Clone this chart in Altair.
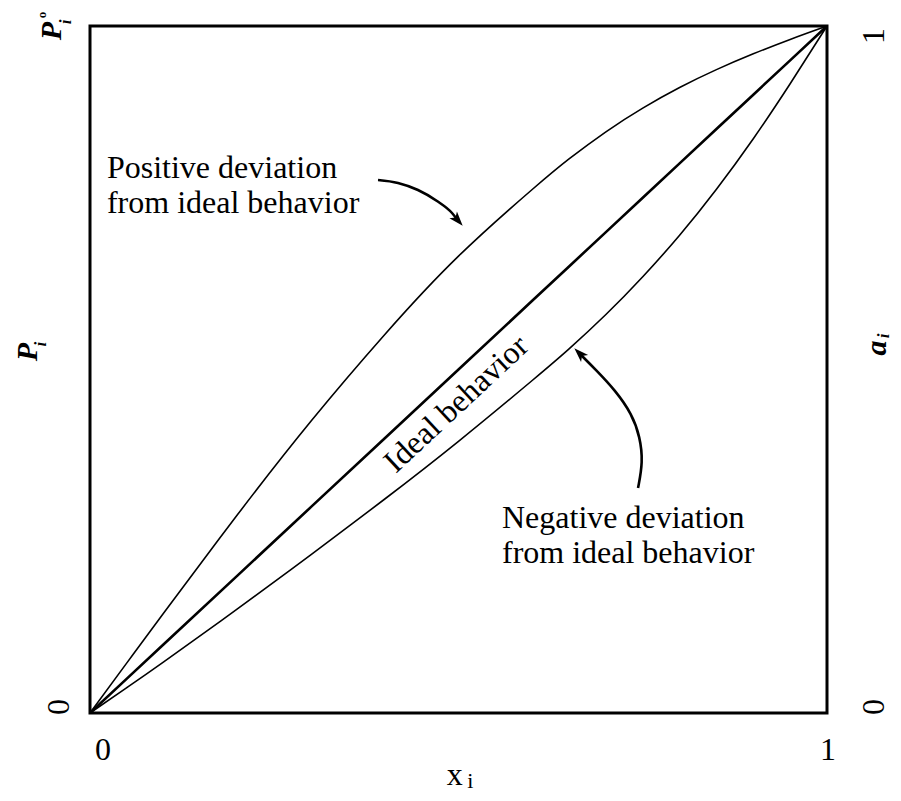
import altair as alt
import pandas as pd

# ---- data (fractions of the axis range) ----
x_frac = [0.0, 0.05, 0.1, 0.2, 0.3, 0.4, 0.5, 0.6, 0.65, 0.7, 0.75, 0.8, 0.85, 0.9, 0.95, 1.0]
ideal = [0.0, 0.05, 0.1, 0.2, 0.3, 0.4, 0.5, 0.6, 0.65, 0.7, 0.75, 0.8, 0.85, 0.9, 0.95, 1.0]
positive_dev = [0.0, 0.073, 0.1455, 0.2885, 0.425, 0.551, 0.665, 0.762, 0.8065, 0.846, 0.8805, 0.9105, 0.9365, 0.9595, 0.9805, 1.0]
negative_dev = [0.0, 0.037, 0.0745, 0.1515, 0.2305, 0.3115, 0.3955, 0.484, 0.530, 0.580, 0.635, 0.6955, 0.7625, 0.836, 0.916, 1.0]

# annotation arrows (data coordinates)
arrow_pos_x = [0.3908, 0.4179, 0.4450, 0.4708, 0.4912, 0.4985]
arrow_pos_y = [0.7758, 0.7715, 0.7613, 0.7453, 0.7278, 0.7180]
arrow_neg_x = [0.7436, 0.7503, 0.7463, 0.7354, 0.7123, 0.6866, 0.6649]
arrow_neg_y = [0.3275, 0.3654, 0.4017, 0.4352, 0.4702, 0.4993, 0.5226]
head_x = [0.4985, 0.6649]
head_y = [0.7180, 0.5226]
head_angle = [139, 315]

# texts
pos_label = ["Positive deviation", "from ideal behavior"]
neg_label = ["Negative deviation", "from ideal behavior"]
ideal_label = "Ideal behavior"
x_tick_labels = ["0", "1"]

FONT = "Liberation Serif"

xs = alt.Scale(domain=[0, 1], nice=False, zero=False)
ys = alt.Scale(domain=[0, 1], nice=False, zero=False)


def enc(extra=None):
    d = dict(x=alt.X("x:Q", scale=xs, axis=None), y=alt.Y("y:Q", scale=ys, axis=None))
    if extra:
        d.update(extra)
    return d


ideal_line = alt.Chart(pd.DataFrame({"x": x_frac, "y": ideal})).mark_line(
    color="black", strokeWidth=2.6).encode(**enc())
pos_line = alt.Chart(pd.DataFrame({"x": x_frac, "y": positive_dev})).mark_line(
    color="black", strokeWidth=1.6, interpolate="natural").encode(**enc())
neg_line = alt.Chart(pd.DataFrame({"x": x_frac, "y": negative_dev})).mark_line(
    color="black", strokeWidth=1.6, interpolate="natural").encode(**enc())

arr1 = alt.Chart(pd.DataFrame({"x": arrow_pos_x, "y": arrow_pos_y, "i": range(len(arrow_pos_x))})).mark_line(
    color="black", strokeWidth=2.6, interpolate="monotone").encode(**enc({"order": "i:Q"}))
arr2 = alt.Chart(pd.DataFrame({"x": arrow_neg_x, "y": arrow_neg_y, "i": range(len(arrow_neg_x))})).mark_line(
    color="black", strokeWidth=2.6, interpolate="basis").encode(**enc({"order": "i:Q"}))
heads = alt.Chart(pd.DataFrame({"x": head_x, "y": head_y, "a": head_angle})).mark_point(
    shape="M0,-1L0.62,0.8L0,0.35L-0.62,0.8Z", filled=True, color="black", opacity=1, size=260, strokeWidth=0
).encode(**enc({"angle": alt.Angle("a:Q", scale=None)}))

# annotation texts
pos_txt = alt.Chart(pd.DataFrame({"x": [0.023, 0.023], "y": [0.7787, 0.7278], "t": pos_label})).mark_text(
    font=FONT, fontSize=32, align="left", baseline="alphabetic", color="black").encode(**enc({"text": "t:N"}))
neg_txt = alt.Chart(pd.DataFrame({"x": [0.559, 0.559], "y": [0.2693, 0.2183], "t": neg_label})).mark_text(
    font=FONT, fontSize=32, align="left", baseline="alphabetic", color="black").encode(**enc({"text": "t:N"}))
ideal_txt = alt.Chart(pd.DataFrame({"x": [0.497], "y": [0.450], "t": [ideal_label]})).mark_text(
    font=FONT, fontSize=32, align="center", baseline="middle", angle=317, color="black").encode(**enc({"text": "t:N"}))

# x axis labels and title
xlab = alt.Chart(pd.DataFrame({"x": [0.0176, 1.0014], "y": [-0.0684, -0.0684], "t": x_tick_labels})).mark_text(
    font=FONT, fontSize=32, align="center", baseline="alphabetic", color="black").encode(**enc({"text": "t:N"}))
xtitle = alt.Chart(pd.DataFrame({"x": [0.495], "y": [-0.1048], "t": ["x"]})).mark_text(
    font=FONT, fontSize=32, align="center", baseline="alphabetic", color="black").encode(**enc({"text": "t:N"}))
xtitle_sub = alt.Chart(pd.DataFrame({"x": [0.512], "y": [-0.1092], "t": ["i"]})).mark_text(
    font=FONT, fontSize=22, align="left", baseline="alphabetic", color="black").encode(**enc({"text": "t:N"}))

# rotated side labels (0 / 1)
side_nums = alt.Chart(pd.DataFrame({"x": [-0.042, 1.064, 1.064], "y": [0.0087, 0.0087, 0.9854],
                                    "t": ["0", "0", "1"]})).mark_text(
    font=FONT, fontSize=32, align="center", baseline="middle", angle=270, color="black").encode(**enc({"text": "t:N"}))

# rotated symbol labels: P_i (left title), P_i° (left top), a_i (right title)
sym_main = alt.Chart(pd.DataFrame({"x": [-0.0841, -0.0516, 1.0678], "y": [0.5255, 0.9927, 0.5313],
                                   "t": ["P", "P", "a"]})).mark_text(
    font=FONT, fontSize=30, fontStyle="italic", fontWeight="bold", align="center", baseline="middle",
    angle=270, color="black").encode(**enc({"text": "t:N"}))
sym_sub = alt.Chart(pd.DataFrame({"x": [-0.0665, -0.0326, 1.0773], "y": [0.537, 1.0058, 0.5488],
                                  "t": ["i", "i", "i"]})).mark_text(
    font=FONT, fontSize=17, fontStyle="italic", fontWeight="bold", align="center", baseline="middle",
    angle=270, color="black").encode(**enc({"text": "t:N"}))
sym_sup = alt.Chart(pd.DataFrame({"x": [-0.0651], "y": [1.016], "t": ["o"]})).mark_text(
    font=FONT, fontSize=13, fontWeight="bold", align="center", baseline="middle",
    angle=270, color="black").encode(**enc({"text": "t:N"}))

chart = alt.layer(
    ideal_line, pos_line, neg_line, arr1, arr2, heads,
    pos_txt, neg_txt, ideal_txt, xlab, xtitle, xtitle_sub, side_nums, sym_main, sym_sub, sym_sup
).properties(
    width=737, height=687,
    padding={"left": 82, "top": 18, "right": 66, "bottom": 80},
    autosize=alt.AutoSizeParams(type="none"),
    background="white",
).configure_view(stroke="black", strokeWidth=3)

chart.save("out.html", embed_options={"renderer": "svg", "actions": False})
